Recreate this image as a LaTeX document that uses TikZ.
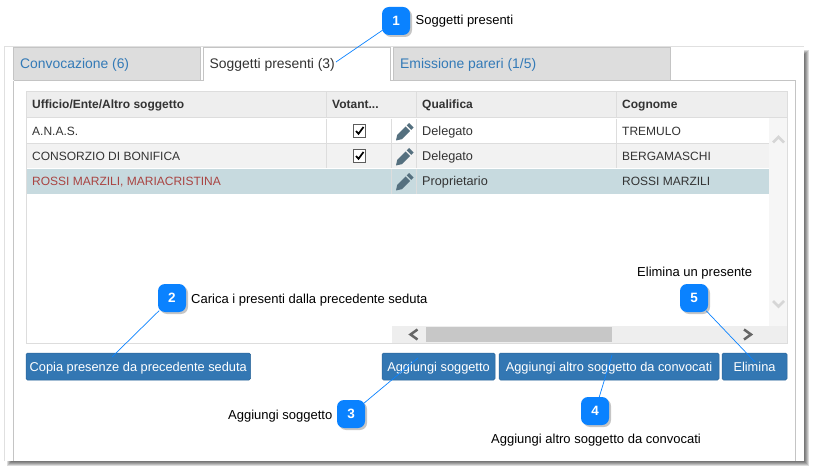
\documentclass[tikz,border=0pt]{standalone}
\usepackage{fontspec}
\setmainfont{Liberation Sans}
\usetikzlibrary{shadows}
\definecolor{tabgrey}{HTML}{DDDDDD}
\definecolor{framegrey}{HTML}{C4C4C4}
\definecolor{headgrey}{HTML}{EEEEEE}
\definecolor{linegrey}{HTML}{DDDDDD}
\definecolor{rowgrey}{HTML}{F2F2F2}
\definecolor{rowsel}{HTML}{C7DADF}
\definecolor{linkblue}{HTML}{337AB7}
\definecolor{btnblue}{HTML}{3377B3}
\definecolor{callblue}{HTML}{0A82FF}
\definecolor{redtext}{HTML}{A94442}
\definecolor{darktext}{HTML}{333333}
\definecolor{pencil}{HTML}{55707F}
\tikzset{
	ui/.style = {inner sep = 0pt, anchor = base west, font = \fontsize{12}{14}\selectfont, text = darktext},
	uiwide/.style = {ui, font = \fontsize{12.7}{14}\selectfont},
	head/.style = {ui, font = \fontsize{12}{14}\selectfont\bfseries},
	tabtext/.style = {ui, font = \fontsize{13.9}{15}\selectfont},
	note/.style = {inner sep = 0pt, anchor = base west, font = \fontsize{13}{14}\selectfont, text = black},
	btn/.style = {draw = btnblue!85!black, fill = btnblue, rounded corners = 1.5pt, line width = .5pt},
	btntext/.style = {inner sep = 0pt, anchor = base, text = white, font = \fontsize{12.8}{14}\selectfont},
	callout/.style = {fill = callblue, rounded corners = 7pt, minimum size = 28pt, inner sep = 0pt, text = white,
		font = \fontsize{13.5}{14}\selectfont\bfseries, drop shadow = {shadow xshift = 2pt, shadow yshift = -2pt, opacity = .45}},
	leader/.style = {draw = callblue, line width = .7pt, shorten <= -2pt},
	chevron/.style = {line width = 2.5pt, line cap = butt},
}
\begin{document}
\begin{tikzpicture}[x = 1pt, y = -1pt]
		\useasboundingbox (0, 0) rectangle (813, 470);
		% window with its shadow
		\foreach \r in {0, 1, 2, 3, 4}{
			\fill[opacity = .14, fill = black] (7 + \r, 50 + \r) rectangle (808.5 - \r, 465.5 - \r);}
		\fill[white] (5, 47) rectangle (804, 460.5);
		\draw[black!12] (4.5, 460.5) -- (4.5, 46.5) -- (804, 46.5);
		\draw[framegrey] (13.5, 81) -- (13.5, 460.5);
		\draw[framegrey] (795.5, 80.5) -- (795.5, 460.5);
		\draw[framegrey] (13.5, 80.5) -- (795.5, 80.5);
		% tabs
		\foreach \a/\b in {13.5/200.5, 393.5/670.5}{
			\draw[framegrey, fill = tabgrey] (\a, 80.5) -- (\a, 47.5) -- (\b, 47.5) -- (\b, 80.5);}
		\draw[framegrey, fill = white] (203.5, 81) -- (203.5, 47.5) -- (390.5, 47.5) -- (390.5, 81);
		\fill[white] (204, 80) rectangle (390, 82);
		\node[tabtext, text = linkblue] (tabconv) at (20, 69) {Convocazione (6)};
		\node[tabtext] (tabsogg) at (209.5, 69) {Soggetti presenti (3)};
		\node[tabtext, text = linkblue] (tabpareri) at (400, 69) {Emissione pareri (1/5)};
		% table
		\draw[linegrey] (26.5, 91.5) rectangle (787, 343);
		\fill[headgrey] (27, 92) rectangle (787, 117);
		\fill[rowgrey] (27, 144) rectangle (769, 168);
		\fill[rowsel] (27, 169) rectangle (769, 194);
		\fill[rowgrey!70!white] (769, 118) rectangle (787, 326);
		\foreach \x in {326.5, 416.5, 616.5}{
			\draw[linegrey] (\x, 92) -- (\x, 117);}
		\foreach \x in {326.5, 391.5, 416.5, 616.5}{
			\draw[linegrey] (\x, 119) -- (\x, 168);}
		\draw[linegrey] (391.5, 169) -- (391.5, 194);
		\draw[linegrey] (416.5, 169) -- (416.5, 194);
		\draw[linegrey] (27, 117.5) -- (787, 117.5);
		\draw[linegrey] (27, 143.5) -- (769, 143.5);
		\foreach \x/\name/\txt in {32/ufficio/Ufficio\slash Ente\slash Altro soggetto, 422/qualifica/Qualifica, 622/cognome/Cognome}{
			\node[head] (\name) at (\x, 109) {\txt};}
		\node[head] (votanti) at (332, 109) {Votant...};
		\foreach \y/\n/\a/\b/\c in {136/1/A.N.A.S./Delegato/TREMULO, 161/2/CONSORZIO DI BONIFICA/Delegato/BERGAMASCHI}{
			\node[ui] (ente\n) at (32, \y) {\a};
			\node[uiwide] (qual\n) at (422, \y) {\b};
			\node[ui] (cogn\n) at (622, \y) {\c};}
		\node[ui, text = redtext] (ente3) at (32, 186) {ROSSI MARZILI, MARIACRISTINA};
		\node[uiwide] (qual3) at (422, 186) {Proprietario};
		\node[ui] (cogn3) at (622, 186) {ROSSI MARZILI};
		% check boxes and pencils
		\foreach \y in {131, 156}{
			\draw[darktext!80!white, fill = white, line width = .8pt] (353.5, \y - 6.5) rectangle (365.5, \y + 6);
			\draw[black, line width = 1.7pt] (356, \y) -- (358.5, \y + 2.8) -- (363.5, \y - 4);}
		\foreach \y in {132, 157, 182}{
			\fill[pencil] (396, \y + 8.5) -- (397.2, \y + 2.8) -- (405.5, \y - 5.5) -- (410, \y - 1) -- (401.8, \y + 7.2) -- cycle;
			\fill[pencil] (406.7, \y - 6.7) -- (409, \y - 9) -- (413.5, \y - 4.5) -- (411.2, \y - 2.2) -- cycle;}
		% scroll bars
		\fill[headgrey] (392, 326) rectangle (787, 343);
		\fill[black!22] (426, 327) rectangle (612, 342);
		\draw[black!60, chevron] (417.5, 329.5) -- (410.5, 334.5) -- (417.5, 339.5);
		\draw[black!60, chevron] (744, 329.5) -- (751, 334.5) -- (744, 339.5);
		\draw[black!16, chevron] (773, 142.5) -- (778.5, 137) -- (784, 142.5);
		\draw[black!16, chevron] (773, 301) -- (778.5, 306.5) -- (784, 301);
		% buttons
		\foreach \a/\b/\name/\txt in {26/250.5/copia/Copia presenze da precedente seduta, 382/495/aggiungi/Aggiungi soggetto, 499/719/altro/Aggiungi altro soggetto da convocati, 722/787/elimina/Elimina}{
			\draw[btn] (\a, 353) rectangle (\b, 380);
			\node[btntext] (\name) at ({(\a + \b) / 2}, 371) {\txt};}
		% callouts
		\foreach \x/\y/\n in {396/21/1, 172/298/2, 351/414/3, 595/411/4, 694/298/5}{
			\node[callout] (call\n) at (\x, \y) {\n};}
		\coordinate (end1) at (336, 62);
		\coordinate (end2) at (112, 357);
		\coordinate (end3) at (418, 358);
		\coordinate (end4) at (612, 355);
		\coordinate (end5) at (755, 362);
		\foreach \n in {1, ..., 5}{
			\draw[leader] (call\n) -- (end\n);}
		\node[note] (note1) at (415.5, 25) {Soggetti presenti};
		\node[note] (note2) at (191, 303) {Carica i presenti dalla precedente seduta};
		\node[note] (note3) at (228, 419) {Aggiungi soggetto};
		\node[note] (note4) at (491, 443) {Aggiungi altro soggetto da convocati};
		\node[note] (note5) at (637, 276) {Elimina un presente};
		\end{tikzpicture}
\end{document}
